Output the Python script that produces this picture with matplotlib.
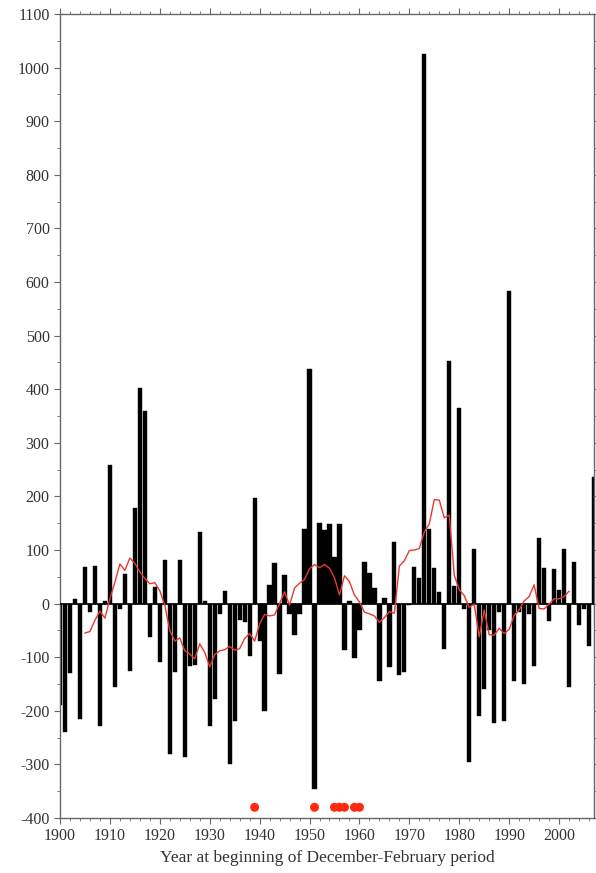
import numpy as np
import matplotlib
matplotlib.use("Agg")
import matplotlib.pyplot as plt
from matplotlib.ticker import MultipleLocator

plt.rcParams['font.family'] = ['Liberation Serif', 'DejaVu Serif']
plt.rcParams['axes.unicode_minus'] = False

# Annual values, 1900-2007
bar_start = 1900
bar_values = [
    -190, -240, -130, 8, -215, 68, -15, 70, -228, 5,        # 1900s
    258, -156, -10, 56, -125, 178, 403, 359, -62, 31,       # 1910s
    -109, 81, -281, -128, 81, -287, -116, -115, 133, 5,     # 1920s
    -228, -178, -19, 23, -300, -219, -31, -34, -97, 197,    # 1930s
    -69, -200, 34, 75, -131, 54, -19, -59, -19, 140,        # 1940s
    437, -345, 151, 137, 149, 87, 149, -87, 5, -101,        # 1950s
    -50, 77, 58, 29, -144, 11, -119, 115, -134, -128,       # 1960s
    -3, 69, 48, 1025, 139, 67, 22, -84, 452, 33,            # 1970s
    365, -10, -296, 101, -209, -159, -50, -223, -15, -219,  # 1980s
    583, -144, -16, -150, -19, -116, 122, 66, -33, 64,      # 1990s
    26, 102, -156, 78, -39, -10, -80, 237,                  # 2000s
]
bar_years = np.arange(bar_start, bar_start + len(bar_values))

# Smoothed (red) curve, 1905-2002
smooth_start = 1905
smooth_values = [
    -55, -52, -31, -14, -27,
    9, 40, 74, 62, 85, 75, 59, 47, 37, 39,
    24, -3, -50, -70, -64, -88, -94, -103, -75, -91,
    -118, -95, -88, -86, -80, -87, -84, -65, -56, -70,
    -38, -20, -23, -21, 0, 22, -3, 29, 38, 45,
    65, 73, 67, 73, 66, 48, 16, 52, 41, 16,
    3, -16, -19, -23, -35, -26, -15, -18, 70, 80,
    99, 100, 103, 134, 149, 194, 193, 160, 165, 53,
    26, 15, -7, -1, -62, -12, -58, -59, -46, -56,
    -48, -22, -12, 5, 13, 35, -9, -10, -1, 9,
    9, 13, 23,
]
smooth_years = np.arange(smooth_start, smooth_start + len(smooth_values))

# Marked years (red dots)
dot_years = [1939, 1951, 1955, 1956, 1957, 1959, 1960]
dot_level = -380

x_ticks = list(range(1900, 2001, 10))
y_ticks = list(range(-400, 1101, 100))

fig = plt.figure(figsize=(5.96, 8.73), dpi=100)
ax = fig.add_axes([60/596, 1-818/873, 534/596, (818-14)/873])

ax.bar(bar_years, bar_values, width=0.85, color='black', edgecolor='black',
       linewidth=0.3, zorder=2)
ax.axhline(0, color='black', linewidth=1.2, zorder=3)
ax.plot(smooth_years, smooth_values, color='#e8392e', linewidth=1.0, zorder=4)
ax.scatter(dot_years, [dot_level]*len(dot_years), s=42, color='#ff2a10',
           edgecolors='none', zorder=5, clip_on=False)

ax.set_xlim(1900, 2007)
ax.set_ylim(-400, 1100)
ax.set_xticks(x_ticks)
ax.set_yticks(y_ticks)
ax.xaxis.set_minor_locator(MultipleLocator(2))
ax.yaxis.set_minor_locator(MultipleLocator(50))

for s in ax.spines.values():
    s.set_color('#666666')
    s.set_linewidth(1.0)

ax.tick_params(axis='both', which='both', colors='#666666', labelcolor='#333333',
               labelsize=11.5)
ax.tick_params(axis='x', which='major', direction='out', length=4.5, top=True, pad=3)
ax.tick_params(axis='x', which='minor', direction='out', length=2.5, top=True)
ax.tick_params(axis='y', which='major', direction='out', length=4.5, right=True, pad=3)
ax.tick_params(axis='y', which='minor', direction='out', length=2.5, right=True)

ax.set_xlabel('Year at beginning of December-February period', fontsize=12.5,
              color='#333333', labelpad=4)

fig.savefig('out.png', dpi=100)
